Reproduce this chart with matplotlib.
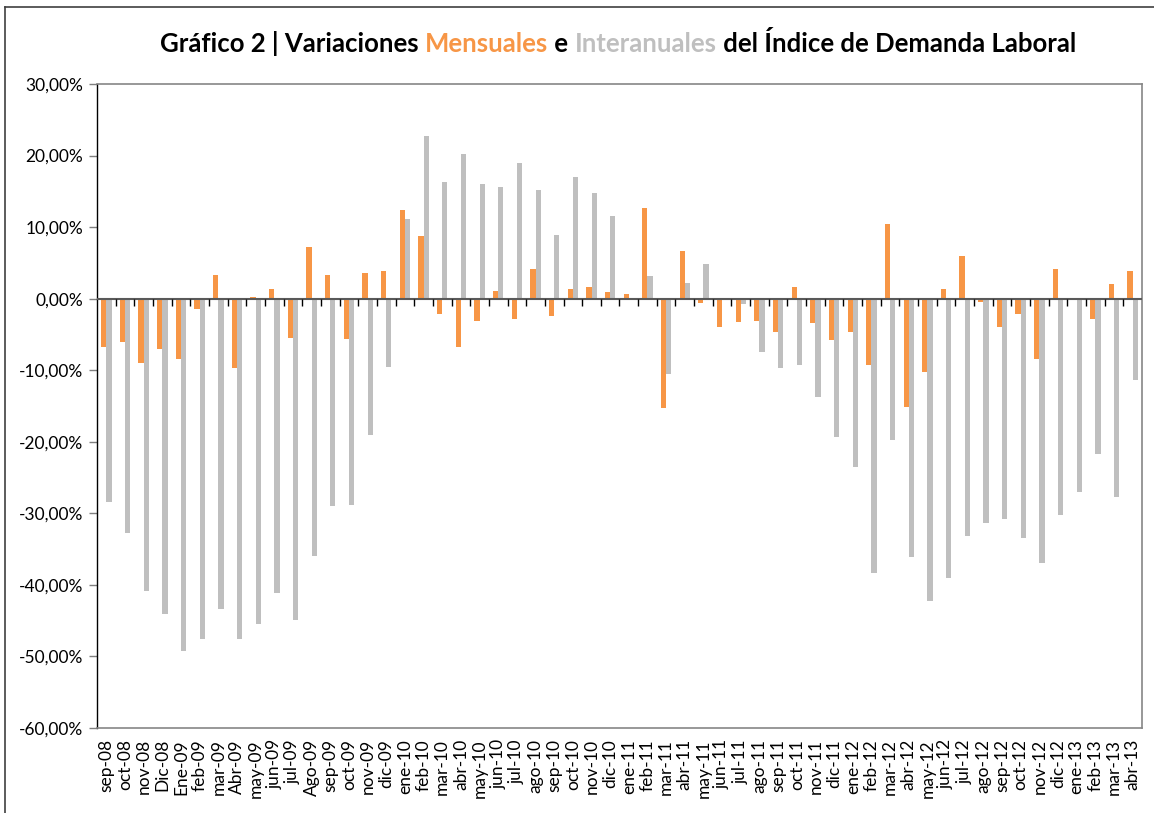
import matplotlib.pyplot as plt
from matplotlib.lines import Line2D
from matplotlib.markers import TICKDOWN
from matplotlib.ticker import FuncFormatter

plt.rcParams["font.family"] = ["Lato", "DejaVu Sans"]

ORANGE = "#F79646"
GREY = "#BFBFBF"

months = [
    "sep-08", "oct-08", "nov-08", "Dic-08",
    "Ene-09", "feb-09", "mar-09", "Abr-09", "may-09", "jun-09",
    "jul-09", "Ago-09", "sep-09", "oct-09", "nov-09", "dic-09",
    "ene-10", "feb-10", "mar-10", "abr-10", "may-10", "jun-10",
    "jul-10", "ago-10", "sep-10", "oct-10", "nov-10", "dic-10",
    "ene-11", "feb-11", "mar-11", "abr-11", "may-11", "jun-11",
    "jul-11", "ago-11", "sep-11", "oct-11", "nov-11", "dic-11",
    "ene-12", "feb-12", "mar-12", "abr-12", "may-12", "jun-12",
    "jul-12", "ago-12", "sep-12", "oct-12", "nov-12", "dic-12",
    "ene-13", "feb-13", "mar-13", "abr-13",
]

# monthly variation (%)
mensual = [
    -6.8, -6.0, -9.0, -7.1,
    -8.5, -1.5, 3.3, -9.7, 0.3, 1.4,
    -5.5, 7.2, 3.3, -5.7, 3.6, 3.8,
    12.4, 8.8, -2.2, -6.7, -3.1, 1.1,
    -2.8, 4.1, -2.4, 1.3, 1.6, 1.0,
    0.6, 12.7, -15.3, 6.6, -0.6, -3.9,
    -3.3, -3.1, -4.7, 1.7, -3.4, -5.8,
    -4.6, -9.3, 10.4, -15.2, -10.2, 1.3,
    5.9, -0.5, -4.0, -2.1, -8.5, 4.1,
    -0.1, -2.8, 2.0, 3.8,
]

# year-on-year variation (%)
interanual = [
    -28.4, -32.7, -40.8, -44.1,
    -49.3, -47.6, -43.4, -47.5, -45.4, -41.2,
    -44.9, -35.9, -29.0, -28.9, -19.0, -9.5,
    11.2, 22.8, 16.3, 20.2, 16.0, 15.6,
    18.9, 15.2, 8.9, 17.0, 14.7, 11.5,
    -0.2, 3.2, -10.5, 2.2, 4.9, -0.2,
    -0.7, -7.5, -9.7, -9.3, -13.7, -19.4,
    -23.5, -38.4, -19.7, -36.1, -42.3, -39.1,
    -33.2, -31.4, -30.8, -33.5, -36.9, -30.3,
    -27.0, -21.7, -27.7, -11.4,
]

fig = plt.figure(figsize=(11.54, 8.13), dpi=100)
ax = fig.add_axes([97 / 1154, 1 - 728 / 813, (1142 - 97) / 1154, (728 - 84) / 813])

x = list(range(len(months)))
w = 0.28
ax.bar([i - w / 2 for i in x], mensual, width=w, color=ORANGE, zorder=3)
ax.bar([i + w / 2 for i in x], interanual, width=w, color=GREY, zorder=3)

ax.set_xlim(-0.5, len(months) - 0.5)
ax.set_ylim(-60, 30)
ax.set_yticks(range(-60, 31, 10))
ax.yaxis.set_major_formatter(FuncFormatter(lambda v, _: f"{v:.2f}%".replace(".", ",")))
ax.tick_params(axis="y", direction="out", length=6, width=1, color="#7F7F7F",
               labelsize=12.5, pad=4)

ax.set_xticks(x)
ax.set_xticklabels(months, rotation=90, fontsize=12.5)
ax.tick_params(axis="x", length=0, pad=8)

for side in ("top", "right", "bottom"):
    ax.spines[side].set_color("#868686")
    ax.spines[side].set_linewidth(1.2)
ax.spines["left"].set_color("black")
ax.spines["left"].set_linewidth(1.0)

# zero axis with tick marks hanging at category boundaries
ax.axhline(0, color="#595959", linewidth=1.5, zorder=4)
bounds = [i + 0.5 for i in x[:-1]]
ax.plot(bounds, [0] * len(bounds), linestyle="none", marker=TICKDOWN,
        markersize=5, markeredgewidth=1, color="black", zorder=4)

# outer chart border
fig.add_artist(Line2D([5 / 1154, 1], [1 - 7 / 813, 1 - 7 / 813],
                      transform=fig.transFigure, color="#404040", lw=1.2))
fig.add_artist(Line2D([5 / 1154, 5 / 1154], [0, 1 - 7 / 813],
                      transform=fig.transFigure, color="#404040", lw=1.2))

# multi-colour title, pieces chained left to right
parts = [
    ("Gráfico 2 | Variaciones ", "black"),
    ("Mensuales", ORANGE),
    (" e ", "black"),
    ("Interanuales", GREY),
    (" del Índice de Demanda Laboral", "black"),
]
TSIZE = 18.5
first = fig.text(0.1, 1 - 44 / 813, parts[0][0], color=parts[0][1],
                 fontsize=TSIZE, fontweight="bold", va="center", ha="left")
texts = [first]
prev = first
for s, c in parts[1:]:
    t = ax.annotate(s, xy=(1, 0), xycoords=prev, color=c, fontsize=TSIZE,
                    fontweight="bold", va="bottom", ha="left",
                    annotation_clip=False)
    texts.append(t)
    prev = t
fig.canvas.draw()
r = fig.canvas.get_renderer()
left = texts[0].get_window_extent(r).x0
right = texts[-1].get_window_extent(r).x1
first.set_x((618 - (right - left) / 2) / fig.bbox.width)

fig.savefig("out.png", dpi=100)
